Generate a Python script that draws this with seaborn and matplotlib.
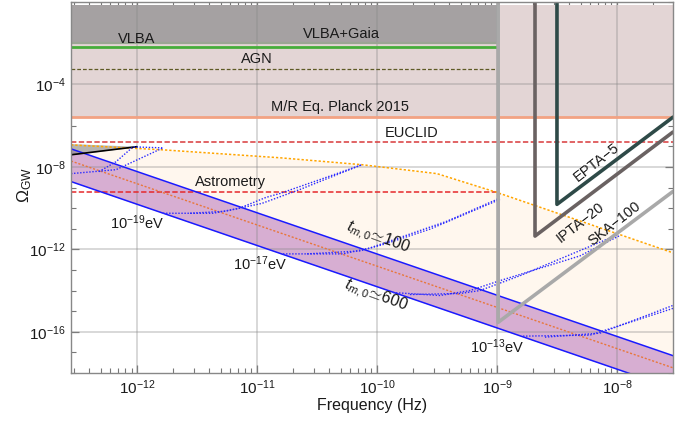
import numpy as np
import matplotlib
matplotlib.use('Agg')
import matplotlib.pyplot as plt
import seaborn as sns

# ---------------- data (log10 values) ----------------
xlim_log = (-12.55, -7.533)
ylim_log = (-18.0, -0.15)

vlba_level = -1.98
vlba_gaia_level = -2.17
agn_level = -3.23
mr_planck_level = -5.59
euclid_level = -6.79
astrometry_level = -9.24
excl_fmax = -9.0

band_f = [-12.55, -7.533]
band_top = [-7.125, -17.159]   # t_m,0 ~ 100
band_bot = [-8.712, -18.746]   # t_m,0 ~ 600
band_mid = [-7.715, -17.749]

bound_f = [-12.55, -11.783, -10.808, -10.125, -9.5, -9.0, -7.533]
bound_om = [-6.933, -7.173, -7.558, -7.894, -8.327, -9.24, -12.17]

tri_f = [-12.55, -12.0]
tri_low = [-7.413, -7.02]
tri_high = [-6.87, -7.0]

ska_f = [-8.99, -8.99, -7.533]
ska_om = [0.0, -15.54, -9.19]
ipta_f = [-8.683, -8.683, -7.533]
ipta_om = [0.0, -11.356, -6.308]
epta_f = [-8.5, -8.5, -7.533]
epta_om = [0.0, -9.817, -5.587]

curveA1_f = [-12.55, -12.175, -11.783]
curveA1_om = [-8.327, -8.135, -7.077]
curveA2_f = [-12.317, -12.175, -12.033, -11.783]
curveA2_om = [-8.231, -7.75, -7.029, -7.077]
curveB1_f = [-11.783, -11.367, -11.15, -10.925, -10.808, -10.475, -10.125]
curveB1_om = [-10.25, -10.25, -10.01, -9.481, -9.288, -8.615, -7.894]
curveB2_f = [-11.558, -11.267, -10.958, -10.642, -10.125]
curveB2_om = [-10.25, -10.154, -9.769, -9.096, -7.894]
curveC1_f = [-10.783, -10.283, -10.058, -9.892, -9.417, -9.0, -8.975]
curveC1_om = [-12.221, -12.221, -11.933, -11.596, -10.635, -9.577, -9.337]
curveC2_f = [-10.583, -10.142, -9.933, -9.558, -8.975]
curveC2_om = [-12.221, -12.077, -11.74, -11.019, -9.577]
curveD1_f = [-9.867, -9.475, -9.225, -8.975, -8.308, -7.983]
curveD1_om = [-14.096, -14.24, -13.999, -13.519, -12.317, -11.35]
curveD2_f = [-9.725, -9.308, -9.142, -8.808, -8.0]
curveD2_om = [-14.192, -14.144, -13.999, -13.279, -11.308]
curveE1_f = [-8.783, -8.225, -7.892, -7.533]
curveE1_om = [-16.212, -16.163, -15.538, -14.865]
curveE2_f = [-8.6, -8.142, -7.533]
curveE2_om = [-16.26, -16.067, -14.721]

major_x = [-12, -11, -10, -9, -8]
major_y = [-16, -12, -8, -4]


def P(v):
    return 10.0 ** np.asarray(v, dtype=float)


# ---------------- style ----------------
sns.set_theme(style='ticks')
plt.rcParams['font.family'] = ['Liberation Sans', 'DejaVu Sans']
plt.rcParams['mathtext.fontset'] = 'custom'
plt.rcParams['mathtext.rm'] = 'Liberation Sans'
plt.rcParams['mathtext.it'] = 'Liberation Sans:italic'
plt.rcParams['mathtext.bf'] = 'Liberation Sans:bold'

fig = plt.figure(figsize=(6.95, 4.22), dpi=100)
ax = fig.add_axes([71 / 695, 1 - 373 / 422, 602 / 695, 371 / 422])
ax.set_xscale('log')
ax.set_yscale('log')
ax.set_xlim(P(xlim_log[0]), P(xlim_log[1]))
ax.set_ylim(P(ylim_log[0]), P(ylim_log[1]))
ax.set_facecolor('white')

ftop = P(ylim_log[1])
fx = P([xlim_log[0], xlim_log[1]])
fx_ex = P([xlim_log[0], excl_fmax])

# pink M/R region
ax.fill_between(fx, P([mr_planck_level] * 2), ftop, color='#e3d5d5', lw=0, zorder=1)
# gray VLBA region
ax.fill_between(fx_ex, P([vlba_level] * 2), ftop, color='#a5a1a2', lw=0, zorder=1.1)

# cream region
bf = P(bound_f)
band_bot_i = 10 ** np.interp(bound_f, band_f, band_bot)
ax.fill_between(bf, band_bot_i, P(bound_om), color='#fff7ee', lw=0, zorder=1)
# purple band
ax.fill_between(P(band_f), P(band_bot), P(band_top), color='#d7aed2', lw=0, zorder=1.2)
# gray triangle
ax.fill_between(P(tri_f), P(tri_low), P(tri_high), color='#888888', alpha=0.6, lw=0, zorder=1.3)

# grid
for k in major_x:
    ax.axvline(P(k), color='#888888', alpha=0.35, lw=1.3, zorder=1.5)
for k in major_y:
    ax.axhline(P(k), color='#888888', alpha=0.35, lw=1.3, zorder=1.5)


def line(f, om, **kw):
    sns.lineplot(x=P(f), y=P(om), ax=ax, estimator=None, sort=False, legend=False, **kw)


# horizontal limits
line([xlim_log[0], excl_fmax], [vlba_level] * 2, color='#9aa594', lw=1.6, zorder=2)
line([xlim_log[0], excl_fmax], [vlba_gaia_level] * 2, color='#45ad3a', lw=2.0, zorder=2)
line([xlim_log[0], excl_fmax], [agn_level] * 2, color='#5e5a25', lw=0.9, linestyle=(0, (3, 1.6)), zorder=2)
line(list(xlim_log), [mr_planck_level] * 2, color='#f2a283', lw=2.0, zorder=2)
line(list(xlim_log), [euclid_level] * 2, color='#d9393b', lw=1.1, linestyle=(0, (3.5, 1.6)), zorder=2)
line([xlim_log[0], excl_fmax], [astrometry_level] * 2, color='#e5282b', lw=1.1, linestyle=(0, (3.5, 1.6)), zorder=2)

# cream boundary and band
line(bound_f, bound_om, color='#ffa500', lw=1.1, linestyle=(0, (1.5, 1.3)), zorder=2.2)
line(band_f, band_top, color='#1a1aff', lw=1.1, zorder=2.3)
line(band_f, band_bot, color='#1a1aff', lw=1.1, zorder=2.3)
line(band_f, band_mid, color='#e8773a', lw=1.0, linestyle=(0, (1.5, 1.3)), zorder=2.2)
line(tri_f, tri_low, color='black', lw=1.2, zorder=2.3)

# blue dotted sensitivity curves
blue_kw = dict(color='#2a2aff', lw=1.0, linestyle=(0, (1.0, 1.2)), zorder=2.4)
for cf, co in [(curveA1_f, curveA1_om), (curveA2_f, curveA2_om),
               (curveB1_f, curveB1_om), (curveB2_f, curveB2_om),
               (curveC1_f, curveC1_om), (curveC2_f, curveC2_om),
               (curveD1_f, curveD1_om), (curveD2_f, curveD2_om),
               (curveE1_f, curveE1_om), (curveE2_f, curveE2_om)]:
    line(cf, co, **blue_kw)

# PTA curves
line(ska_f, ska_om, color='#a9a9a9', lw=2.6, zorder=3)
line(ipta_f, ipta_om, color='#6a6262', lw=2.6, zorder=3)
line(epta_f, epta_om, color='#2e4a48', lw=2.6, zorder=3)

# ---------------- texts ----------------
tk = dict(color='#1a1a1a', fontsize=10.5, ha='center', va='center', zorder=4)
ax.text(P(-12.0), P(-1.79), 'VLBA', **tk)
ax.text(P(-10.3), P(-1.55), 'VLBA+Gaia', **tk)
ax.text(P(-11.0), P(-2.75), 'AGN', **tk)
ax.text(P(-10.308), P(-5.11), 'M/R Eq. Planck 2015', **tk)
ax.text(P(-9.708), P(-6.36), 'EUCLID', **tk)
ax.text(P(-11.225), P(-8.71), 'Astrometry', **tk)
ax.text(P(-12.0), P(-10.73), r'10$^{-19}$eV', **tk)
ax.text(P(-10.975), P(-12.70), r'10$^{-17}$eV', **tk)
ax.text(P(-9.0), P(-16.74), r'10$^{-13}$eV', **tk)
tk2 = dict(tk, fontsize=11.5)
ax.text(P(-9.992), P(-11.45), r'$t_{m,0}\!\simeq\!100$', rotation=-20, rotation_mode='anchor', **tk2)
ax.text(P(-10.008), P(-14.25), r'$t_{m,0}\!\simeq\!600$', rotation=-20, rotation_mode='anchor', **tk2)
ax.text(P(-8.167), P(-7.80), 'EPTA\u22125', rotation=38, rotation_mode='anchor', **tk)
ax.text(P(-8.308), P(-10.68), 'IPTA\u221220', rotation=38, rotation_mode='anchor', **tk)
ax.text(P(-8.017), P(-10.73), 'SKA\u2212100', rotation=38, rotation_mode='anchor', **tk)

# ---------------- axes ----------------
ax.set_xticks(P(major_x))
ax.set_xticklabels([r'$10^{%d}$' % k for k in major_x])
ax.xaxis.set_minor_locator(matplotlib.ticker.LogLocator(base=10, subs=np.arange(2, 10)))
ax.xaxis.set_minor_formatter(matplotlib.ticker.NullFormatter())
ax.set_yticks(P(major_y))
ax.set_yticklabels([r'$10^{%d}$' % k for k in major_y])
ax.set_yticks(P(list(range(-18, 1))), minor=True)
ax.yaxis.set_minor_formatter(matplotlib.ticker.NullFormatter())

ax.tick_params(which='both', direction='in', top=True, right=True, colors='#777777',
               labelcolor='#1a1a1a', labelsize=11)
ax.tick_params(which='major', length=6, width=0.9, pad=4)
ax.tick_params(which='minor', length=3.5, width=0.8)
for s in ax.spines.values():
    s.set_color('#888888')
    s.set_linewidth(1.0)
    s.set_zorder(5)

ax.set_xlabel('Frequency (Hz)', fontsize=11.5, color='#1a1a1a')
ax.xaxis.set_label_coords(0.5, -0.068)
ax.set_ylabel(r'$\Omega_{\rm GW}$', fontsize=12.5, color='#1a1a1a')
ax.yaxis.set_label_coords(-0.062, 0.507)

fig.savefig('out.png', dpi=100)
